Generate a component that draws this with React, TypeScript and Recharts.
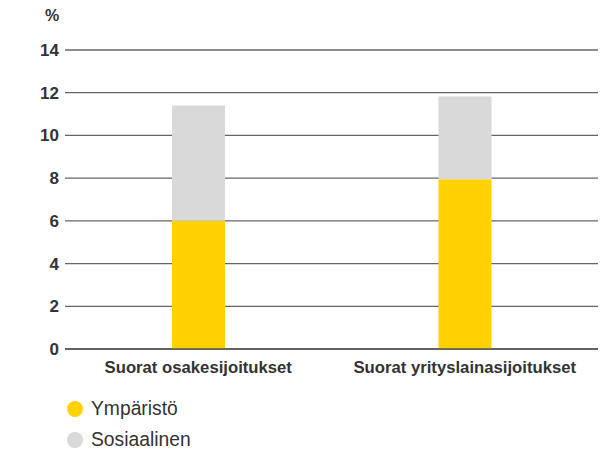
import { BarChart, Bar, XAxis, YAxis, CartesianGrid } from "recharts";

const categories = ["Suorat osakesijoitukset", "Suorat yrityslainasijoitukset"];
const ymparisto = [6.0, 7.95];
const sosiaalinen = [5.4, 3.87];
const yTicks = [0, 2, 4, 6, 8, 10, 12, 14];

const YELLOW = "#FFD200";
const GREY = "#D9D9D9";
const TEXT = "#333333";
const FONT = "'Liberation Sans', Arial, sans-serif";

const data = categories.map((name, i) => ({
  name,
  ymparisto: ymparisto[i],
  sosiaalinen: sosiaalinen[i],
}));

const legendItems = [
  { label: "Ympäristö", color: YELLOW },
  { label: "Sosiaalinen", color: GREY },
];

export default function App() {
  return (
    <div
      style={{
        position: "absolute",
        left: 0,
        top: 0,
        width: 601,
        height: 451,
        fontFamily: FONT,
        background: "#fff",
      }}
    >
      <div
        style={{
          position: "absolute",
          left: 45,
          top: 7,
          fontSize: 16,
          fontWeight: 700,
          color: TEXT,
        }}
      >
        %
      </div>
      <BarChart
        width={601}
        height={451}
        data={data}
        margin={{ top: 50, right: 3, bottom: 72, left: 8 }}
      >
        <CartesianGrid
          vertical={false}
          stroke="#666"
          strokeWidth={1.3}
          horizontalValues={yTicks}
        />
        <XAxis
          dataKey="name"
          height={30}
          axisLine={{ stroke: "#555", strokeWidth: 1.5 }}
          tickLine={false}
          tickMargin={6}
          tick={{ fill: TEXT, fontSize: 16.7, fontWeight: 700, fontFamily: FONT }}
        />
        <YAxis
          width={57}
          domain={[0, 14]}
          ticks={yTicks}
          axisLine={false}
          tickLine={false}
          tickSize={4}
          tickMargin={2}
          tick={{ fill: TEXT, fontSize: 17, fontWeight: 700, fontFamily: FONT }}
        />
        <Bar
          dataKey="ymparisto"
          stackId="a"
          fill={YELLOW}
          barSize={53}
          isAnimationActive={false}
        />
        <Bar
          dataKey="sosiaalinen"
          stackId="a"
          fill={GREY}
          barSize={53}
          isAnimationActive={false}
        />
      </BarChart>
      <div style={{ position: "absolute", left: 67, top: 393 }}>
        {legendItems.map((item) => (
          <div
            key={item.label}
            style={{
              display: "flex",
              alignItems: "center",
              height: 31,
              fontSize: 19.3,
              color: TEXT,
              whiteSpace: "nowrap",
            }}
          >
            <span
              style={{
                width: 16,
                height: 16,
                borderRadius: "50%",
                background: item.color,
                marginRight: 8,
                display: "inline-block",
                flexShrink: 0,
              }}
            />
            {item.label}
          </div>
        ))}
      </div>
    </div>
  );
}
